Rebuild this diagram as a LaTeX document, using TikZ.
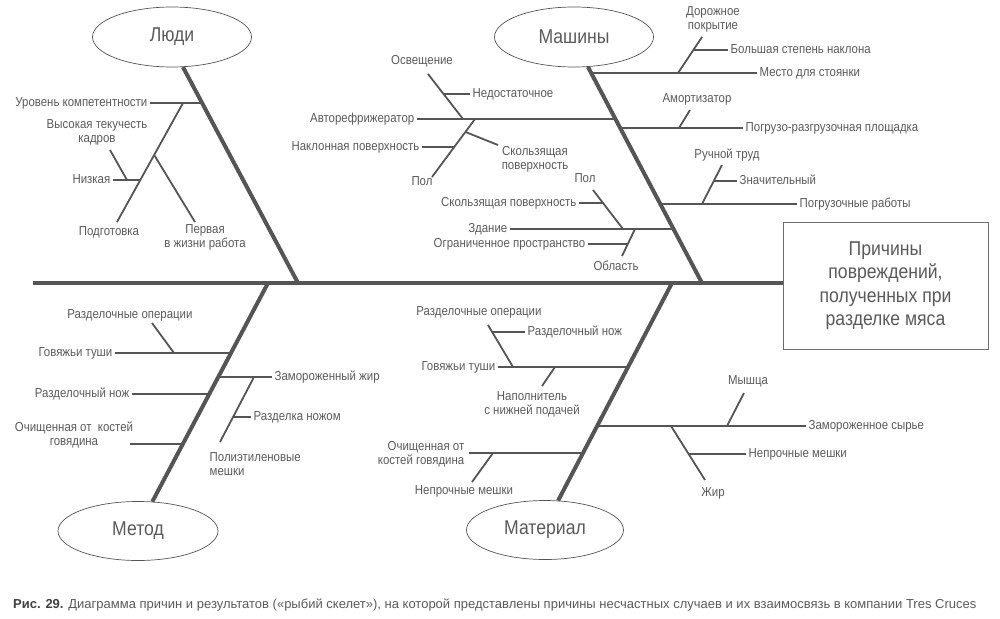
\documentclass[tikz,border=0pt]{standalone}
\usepackage{fontspec}
\setmainfont{Liberation Sans}[FakeStretch=0.88]
\newfontfamily\capfont{Liberation Sans}
\usepackage{xcolor}
\usepackage{tikz}
\usetikzlibrary{calc, positioning, shapes, shapes.geometric}
\definecolor{bonegray}{HTML}{555555}
\definecolor{textgray}{HTML}{5A5A5A}

\begin{document}
\begin{tikzpicture}[x=1pt, y=-1pt]
		\tikzstyle{bone}=[line width=4pt, color=bonegray]
		\tikzstyle{twig}=[line width=1.8pt, color=bonegray]
		\tikzstyle{lbl}=[text=textgray, font=\fontsize{13}{14}\selectfont, inner sep=2.5pt, align=center, text height=9pt, text depth=2pt]
		\tikzstyle{cat}=[ellipse, draw=bonegray, line width=0.7pt, minimum width=159pt, minimum height=60pt, inner sep=0pt, text=textgray, font=\fontsize{20}{24}\selectfont]
		\useasboundingbox (0,0) rectangle (1000,618);

		% head and spine
		\node[draw=bonegray!85, line width=0.8pt, minimum width=205pt, minimum height=127pt, text=textgray, font=\fontsize{20}{23.5}\selectfont, align=center] (goal) at (885.5,285.5) {Причины\\повреждений,\\полученных при\\разделке мяса};
		\coordinate (tail) at (33,283);
		\draw[bone] (tail) -- (goal.west |- tail);

		% categories
		\node[cat] (people) at (172,37) {Люди};
		\node[cat] (machines) at (574,37) {Машины};
		\node[cat, minimum width=160pt, minimum height=59pt] (method) at (138,531) {Метод};
		\node[cat, minimum width=157pt, minimum height=59pt] (material) at (545,530) {Материал};
		\coordinate (peopleEnd) at (298,283);
		\coordinate (machinesEnd) at (702,283);
		\coordinate (methodEnd) at (268,283);
		\coordinate (materialEnd) at (672,283);
		\draw[bone] (people.-70) -- (peopleEnd);
		\draw[bone] (machines.-65) -- (machinesEnd);
		\draw[bone] (method.64) -- (methodEnd);
		\draw[bone] (material.66) -- (materialEnd);

		% Люди
		\coordinate (p1) at (202.2,103);
		\coordinate (p1a) at (183,103);
		\coordinate (p1b) at (117,222);
		\coordinate (p1c) at (140.3,180);
		\coordinate (p1d) at (127,180);
		\coordinate (p1e) at (110,150);
		\coordinate (p1f) at (154.2,155);
		\coordinate (p1g) at (195,222);
		\node[lbl, anchor=east] (skill) at (150,103) {Уровень компетентности};
		\node[lbl] (turnover) at (97,138.5) {Высокая текучесть\\кадров};
		\node[lbl, anchor=east] (low) at (113,180) {Низкая};
		\node[lbl] (training) at (109,232) {Подготовка};
		\node[lbl] (firstjob) at (205,244) {Первая\\в жизни работа};
		\draw[twig] (skill) -- (p1);
		\draw[twig] (p1a) -- (p1b);
		\draw[twig] (low) -- (p1c);
		\draw[twig] (p1e) -- (p1d);
		\draw[twig] (p1f) -- (p1g);

		% Машины, left side
		\coordinate (m1) at (615.4,119);
		\coordinate (m1a) at (428,74);
		\coordinate (m1b) at (463,119);
		\coordinate (m1c) at (443.6,94);
		\coordinate (m1d) at (475,119);
		\coordinate (m1e) at (432,177);
		\coordinate (m1f) at (454.6,147);
		\coordinate (m1g) at (465.5,132);
		\coordinate (m1h) at (498,145);
		\node[lbl, anchor=east] (reefer) at (417,119) {Авторефрижератор};
		\node[lbl] (light) at (422,61) {Освещение};
		\node[lbl, anchor=west] (poor) at (470,94) {Недостаточное};
		\node[lbl] (floorA) at (422,182) {Пол};
		\node[lbl, anchor=east] (slope) at (422,147) {Наклонная поверхность};
		\node[lbl] (slipA) at (535,166) {Скользящая\\поверхность};
		\draw[twig] (reefer) -- (m1);
		\draw[twig] (m1a) -- (m1b);
		\draw[twig] (m1c) -- (poor);
		\draw[twig] (m1d) -- (m1e);
		\draw[twig] (slope) -- (m1f);
		\draw[twig] (m1g) -- (m1h);

		\coordinate (m4) at (673.5,229);
		\coordinate (m4a) at (593,190);
		\coordinate (m4b) at (623,229);
		\coordinate (m4c) at (603,203);
		\coordinate (m4d) at (635,229);
		\coordinate (m4e) at (622,256);
		\coordinate (m4f) at (627.8,244);
		\node[lbl, anchor=east] (building) at (510,229) {Здание};
		\node[lbl] (floorB) at (585,179) {Пол};
		\node[lbl, anchor=east] (slipB) at (579,203) {Скользящая поверхность};
		\node[lbl] (area) at (616,267) {Область};
		\node[lbl, anchor=east] (confined) at (588,244) {Ограниченное пространство};
		\draw[twig] (building) -- (m4);
		\draw[twig] (m4a) -- (m4b);
		\draw[twig] (slipB) -- (m4c);
		\draw[twig] (m4d) -- (m4e);
		\draw[twig] (confined) -- (m4f);

		% Машины, right side
		\coordinate (m0) at (591.2,73);
		\coordinate (m0a) at (678,73);
		\coordinate (m0b) at (702,37);
		\coordinate (m0c) at (693.3,50);
		\node[lbl, anchor=west] (parking) at (757,73) {Место для стоянки};
		\node[lbl] (road) at (713,26) {Дорожное\\покрытие};
		\node[lbl, anchor=west] (incline) at (728,50) {Большая степень наклона};
		\draw[twig] (m0) -- (parking);
		\draw[twig] (m0a) -- (m0b);
		\draw[twig] (m0c) -- (incline);

		\coordinate (m2) at (620.2,128);
		\coordinate (m2a) at (679,128);
		\coordinate (m2b) at (690,110);
		\node[lbl, anchor=west] (dock) at (743,128) {Погрузо-разгрузочная площадка};
		\node[lbl] (damper) at (697,99) {Амортизатор};
		\draw[twig] (m2) -- (dock);
		\draw[twig] (m2a) -- (m2b);

		\coordinate (m3) at (660.3,204);
		\coordinate (m3a) at (702,204);
		\coordinate (m3b) at (722,165);
		\coordinate (m3c) at (713.8,181);
		\node[lbl, anchor=west] (loading) at (797,204) {Погрузочные работы};
		\node[lbl] (manual) at (727,155) {Ручной труд};
		\node[lbl, anchor=west] (heavy) at (737,181) {Значительный};
		\draw[twig] (m3) -- (loading);
		\draw[twig] (m3a) -- (m3b);
		\draw[twig] (m3c) -- (heavy);

		% Метод
		\coordinate (d1) at (230.9,353);
		\coordinate (d1a) at (152,323);
		\coordinate (d1b) at (174,353);
		\coordinate (d3) at (209.2,394);
		\coordinate (d4) at (182.7,444);
		\coordinate (d4a) at (130,444);
		\node[lbl, anchor=east] (carcassA) at (115,353) {Говяжьи туши};
		\node[lbl] (cutopsA) at (130,315) {Разделочные операции};
		\node[lbl, anchor=east] (knifeA) at (132,394) {Разделочный нож};
		\node[lbl] (bonelessA) at (74,441.5) {Очищенная от\ \ костей\\говядина};
		\draw[twig] (carcassA) -- (d1);
		\draw[twig] (d1a) -- (d1b);
		\draw[twig] (knifeA) -- (d3);
		\draw[twig] (d4a) -- (d4);

		\coordinate (d2) at (218.2,377);
		\coordinate (d2a) at (254,377);
		\coordinate (d2b) at (220,442);
		\coordinate (d2c) at (233.1,417);
		\node[lbl, anchor=west] (frozenfat) at (272,377) {Замороженный жир};
		\node[lbl, anchor=west] (knifecut) at (251,417) {Разделка ножом};
		\node[lbl, anchor=west, align=left] (bags) at (207,471.5) {Полиэтиленовые\\мешки};
		\draw[twig] (d2) -- (frozenfat);
		\draw[twig] (d2a) -- (d2b);
		\draw[twig] (d2c) -- (knifecut);

		% Материал
		\coordinate (t1) at (628.1,367);
		\coordinate (t1a) at (488,325);
		\coordinate (t1b) at (513,367);
		\coordinate (t1c) at (492.2,332);
		\coordinate (t1d) at (555,367);
		\coordinate (t1e) at (542,386);
		\node[lbl, anchor=east] (carcassB) at (498,367) {Говяжьи туши};
		\node[lbl] (cutopsB) at (479,312) {Разделочные операции};
		\node[lbl, anchor=west] (knifeB) at (525,332) {Разделочный нож};
		\node[lbl] (feeder) at (532,411) {Наполнитель\\с нижней подачей};
		\draw[twig] (carcassB) -- (t1);
		\draw[twig] (t1a) -- (t1b);
		\draw[twig] (t1c) -- (knifeB);
		\draw[twig] (t1d) -- (t1e);

		\coordinate (t3) at (583.1,453);
		\coordinate (t3s) at (469,453);
		\coordinate (t3a) at (493,453);
		\coordinate (t3b) at (472,482);
		\node[lbl, anchor=east, align=right] (bonelessB) at (467,461) {Очищенная от\\костей говядина};
		\node[lbl] (weakA) at (464,491) {Непрочные мешки};
		\draw[twig] (t3s) -- (t3);
		\draw[twig] (t3a) -- (t3b);

		\coordinate (t2) at (597.2,426);
		\coordinate (t2a) at (727,426);
		\coordinate (t2b) at (744,393);
		\coordinate (t2c) at (671,426);
		\coordinate (t2d) at (705,480);
		\coordinate (t2e) at (688.6,454);
		\node[lbl, anchor=west] (rawfrozen) at (806,426) {Замороженное сырье};
		\node[lbl] (muscle) at (748,381) {Мышца};
		\node[lbl] (fat) at (713,493) {Жир};
		\node[lbl, anchor=west] (weakB) at (746,454) {Непрочные мешки};
		\draw[twig] (t2) -- (rawfrozen);
		\draw[twig] (t2a) -- (t2b);
		\draw[twig] (t2c) -- (t2d);
		\draw[twig] (t2e) -- (weakB);

		% caption
		\node[anchor=west, inner sep=0pt, text=textgray, font=\capfont\fontsize{13}{15}\selectfont] (caption) at (13,605) {{\color{black!75}\bfseries Рис. 29.} Диаграмма причин и результатов («рыбий скелет»), на которой представлены причины несчастных случаев и их взаимосвязь в компании Tres Cruces};
	\end{tikzpicture}
\end{document}
